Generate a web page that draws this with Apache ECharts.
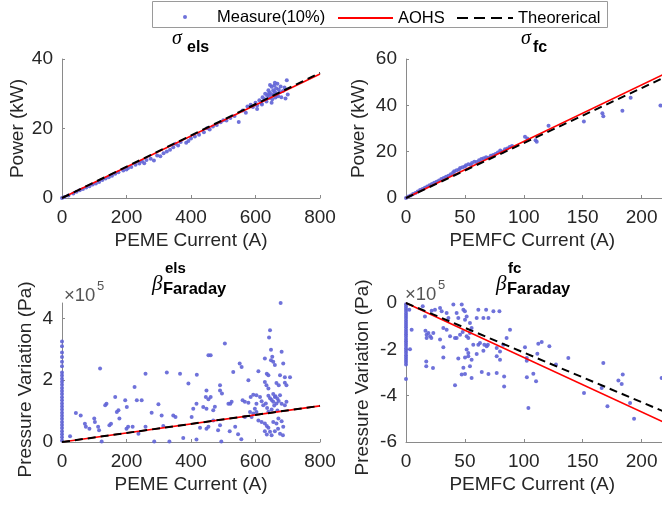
<!DOCTYPE html>
<html>
<head>
<meta charset="utf-8">
<script src="https://cdn.jsdelivr.net/npm/echarts@6/dist/echarts.min.js"></script>
<style>
html,body{margin:0;padding:0;background:#fff;}
#chart{width:662px;height:506px;}
</style>
</head>
<body>
<div id="chart"></div>
<script>
// ---------------- DATA ----------------
const seriesNames = ['Measure(10%)', 'AOHS', 'Theorerical'];

// sigma_els : PEME current (A) vs power (kW)
const elsPowerMeasured = [
[0,0],[8,0.3],[20,0.7],[35,1.3],[45,1.8],[55,2.2],[65,2.6],[75,3.0],[85,3.4],[95,3.9],[105,4.2],[115,4.6],[125,5.2],[135,5.6],[145,6.0],[155,6.4],[165,7.0],[175,7.4],[190,7.9],[200,8.2],[205,8.6],[215,8.9],[228,9.6],[240,9.9],[248,10.6],[255,10.0],[262,10.9],[275,11.3],[285,10.8],[295,12.2],[305,12.0],[315,12.9],[325,13.4],[335,13.9],[345,14.6],[352,15.6],[360,15.1],[368,16.1],[385,15.9],[392,16.4],[400,17.1],[412,17.7],[425,18.2],[440,18.9],[450,20.1],[458,19.7],[468,20.6],[480,21.0],[492,21.8],[500,22.4],[510,22.3],[522,23.0],[535,23.6],[548,21.9],[560,25.2],[570,24.5],[575,26.3],[585,26.8],[592,26.2],[600,27.4],[605,26.6],[612,28.1],[618,27.3],[622,29.0],[628,28.4],[630,30.0],[634,27.8],[636,29.4],[640,31.0],[642,28.8],[645,30.3],[648,29.6],[650,32.0],[652,28.4],[655,31.0],[656,29.9],[658,32.4],[660,30.6],[662,28.9],[664,31.6],[666,30.1],[668,32.9],[670,29.3],[672,31.2],[675,30.4],[678,32.1],[680,29.0],[685,30.8],[690,31.8],[693,28.6],[697,33.9],[700,29.8],[605,25.6],[620,26.9],[645,32.5],[660,33.2],[650,27.4],[640,29.9]
];
const elsPowerAOHS = [[0,0],[800,35.7]];
const elsPowerTheory = [[0,0],[800,36.0]];

// sigma_fc : PEMFC current (A) vs power (kW)
const fcPowerMeasured = [
[0,0],[2,0.6],[4,1.1],[6,1.7],[8,2.2],[10,2.8],[12,3.4],[14,3.9],[16,4.4],[18,5.0],[20,5.5],[22,6.0],[24,6.6],[26,7.0],[28,7.6],[30,8.2],[32,8.6],[34,9.2],[36,9.6],[38,10.3],[40,11.0],[41,11.5],[43,12.0],[45,12.3],[46,12.9],[48,13.3],[50,13.6],[51,14.1],[53,14.6],[55,14.4],[56,15.1],[58,15.6],[60,15.5],[62,16.3],[64,16.8],[66,17.2],[68,17.6],[70,17.4],[72,18.2],[74,18.6],[76,19.0],[78,19.6],[80,20.5],[82,20.0],[84,21.0],[86,21.4],[88,22.0],[90,22.5],[101,26.4],[103,25.7],[110,24.9],[111,24.3],[121,31.2],[151,33.0],[166.7,36.6],[167.5,35.3],[183.7,37.7],[190.7,43.3],[216,39.9]
];
const fcPowerAOHS = [[0,0],[250,61.0]];
const fcPowerTheory = [[0,0],[250,59.3]];

// beta_Faraday^els : PEME current (A) vs pressure variation (x1e5 Pa)
const elsPressureAtZero = [0.05,0.15,0.25,0.35,0.45,0.55,0.65,0.75,0.85,0.95,1.05,1.15,1.25,1.35,1.45,1.55,1.65,1.75,1.85,1.95,2.05,2.15,2.25,2.45,2.6,2.75,2.9,3.1,3.25];
const elsPressureMeasured = [
[25,0.19],[43,0.94],[58,0.86],[71,0.59],[74,0.49],[85,0.43],[100,0.76],[102,0.65],[112,0.49],[115,0.38],[118,2.38],[123,0.02],[134,1.19],[138,1.24],[147,0.54],[152,0.59],[165,1.46],[170,0.97],[175,1.03],[178,0.76],[196,1.35],[201,1.13],[200,0.43],[205,0.49],[219,0.49],[225,1.78],[232,1.35],[237,0.27],[247,1.35],[259,0.49],[259,2.21],[278,0.95],[286,0.02],[299,1.22],[309,0.86],[314,0.52],[325,2.25],[333,0.02],[345,0.86],[352,0.81],[366,2.21],[376,0.13],[392,1.89],[402,0.81],[407,1.08],[417,1.24],[417,0.08],[418,2.18],[428,0.46],[438,1.13],[448,1.67],[446,1.46],[448,1.08],[448,0.43],[454,2.81],[461,2.81],[454,0.49],[461,1.46],[454,1.38],[469,1.03],[474,1.14],[469,0.70],[484,0.38],[490,1.84],[490,1.67],[490,0.54],[494,0.02],[496,1.57],[505,3.19],[516,1.24],[522,1.24],[520,0.35],[526,1.30],[531,2.27],[537,0.49],[546,0.25],[551,2.54],[557,2.43],[556,0.09],[560,1.35],[567,0.81],[567,1.30],[578,2.0],[578,1.27],[583,0.97],[585,1.46],[588,0.81],[593,1.53],[593,0.92],[598,1.08],[603,1.51],[603,0.97],[603,1.24],[609,2.29],[609,0.70],[614,1.46],[619,1.32],[619,0.65],[624,1.19],[629,2.70],[629,1.94],[629,0.60],[629,0.35],[634,1.84],[635,2.21],[635,0.52],[635,0.24],[640,2.16],[640,1.73],[640,0.46],[640,1.50],[642,3.38],[645,3.62],[645,1.42],[645,0.33],[648,2.99],[648,2.65],[650,1.36],[650,0.22],[652,2.76],[655,2.60],[655,1.30],[655,0.65],[660,2.49],[660,1.46],[660,0.35],[665,1.91],[665,1.25],[665,0.60],[668,1.40],[670,0.43],[672,1.84],[672,1.33],[671,0.76],[676,2.16],[676,1.51],[676,0.27],[678,4.50],[681,2.92],[681,1.24],[681,0.67],[686,2.54],[686,0.49],[685,0.22],[691,2.10],[691,1.92],[691,1.19],[696,1.84],[696,1.30],[707,2.10],[650,1.05],[640,0.98],[655,1.55],[662,1.48],[658,1.18],[668,1.02],[636,1.10],[632,1.25]
];
const elsPressureAOHS = [[0,0],[800,1.17]];
const elsPressureTheory = [[0,0],[800,1.17]];

// beta_Faraday^fc : PEMFC current (A) vs pressure variation (x1e5 Pa)
const fcPressureAtZero = [-0.05,-0.15,-0.25,-0.35,-0.45,-0.55,-0.65,-0.75,-0.85,-0.95,-1.05,-1.15,-1.25,-1.35,-1.45,-1.55,-1.65,-1.75,-1.85,-1.95,-2.05,-2.15,-2.25,-2.35,-2.45,-2.55,-2.65,-3.28];
const fcPressureMeasured = [
[2.8,-0.29],[4.8,-1.15],[3.4,-2.0],[14.2,-0.14],[16.1,-0.58],[21.8,-0.33],[24.6,-0.29],[28.9,-0.22],[30.3,-0.36],[34.5,-0.43],[40.2,-0.07],[47.3,-0.07],[48.7,-0.29],[50,-0.36],[51.5,-0.58],[50.1,-0.72],[43,-0.43],[44.4,-0.65],[36,-0.65],[54.3,-0.86],[55.7,-1.08],[54.3,-1.3],[60,-0.65],[61.4,-0.29],[68,-0.29],[74.2,-0.36],[79.3,-0.36],[65.7,-0.65],[70,-0.65],[16.5,-1.2],[17.5,-1.37],[19,-1.3],[21.5,-1.51],[20.5,-1.44],[17.5,-1.51],[23.2,-1.3],[31.7,-1.08],[34.5,-1.15],[28.9,-1.58],[37.4,-1.44],[41.6,-1.51],[43,-1.51],[45.9,-1.37],[48.1,-1.25],[51.5,-1.44],[52.9,-1.51],[57.1,-1.8],[61.4,-1.8],[62.8,-1.73],[31.7,-1.91],[51.5,-2.01],[52.9,-2.16],[50.1,-2.35],[52.9,-2.3],[60,-2.2],[65.7,-2.06],[68.5,-1.87],[66.5,-1.8],[69.5,-1.8],[77,-1.94],[79.8,-2.09],[77,-2.3],[79.8,-2.45],[82.6,-1.8],[85.4,-1.51],[88.3,-1.15],[44.4,-2.4],[55.7,-2.45],[54.3,-2.73],[48.7,-2.8],[47.3,-3.09],[50.1,-3.06],[55.7,-3.24],[64.3,-2.98],[70,-3.06],[77,-3.02],[83.3,-3.17],[41.6,-3.55],[83.3,-3.6],[17.2,-2.52],[17.2,-2.73],[22.9,-2.81],[31.7,-2.35],[101,-1.91],[102.5,-2.37],[102.5,-2.49],[102.6,-3.21],[103.9,-4.53],[108.1,-3.05],[110.4,-3.38],[111.5,-2.19],[112.3,-1.76],[115.2,-1.68],[121.7,-1.87],[127.3,-2.66],[137.8,-2.37],[151.1,-3.88],[167.5,-2.59],[166.1,-3.67],[171,-4.46],[180.3,-3.35],[183.1,-3.5],[184,-3.09],[190.2,-4.32],[193.6,-5.0],[217,-3.24]
];
const fcPressureAOHS = [[0,0],[250,-5.875]];
const fcPressureTheory = [[0,0],[250,-5.35]];

// tick labels
const elsCurrentTicks = [0,200,400,600,800];
const fcCurrentTicks = [0,50,100,150,200,250];
const elsPowerTicks = [0,20,40];
const fcPowerTicks = [0,20,40,60];
const elsPressureTicks = [0,2,4];
const fcPressureTicks = [0,-2,-4,-6];

// ---------------- CHART ----------------
const FONT = 'Liberation Sans, Arial, Helvetica, sans-serif';
const AXIS_GRAY = '#8a8a8a';
const TEXT_COLOR = '#262626';
const DOT = '#5f63d6';

const chart = echarts.init(document.getElementById('chart'), null, {renderer: 'canvas'});

function xAxis(gi, min, max, ticks, name, namePad) {
  return {
    type: 'value', gridIndex: gi, min: min, max: max,
    name: name, nameLocation: 'middle', nameGap: 33,
    nameTextStyle: {fontFamily: FONT, fontSize: 19, color: TEXT_COLOR, padding: namePad || 0},
    axisLine: {show: true, onZero: false, lineStyle: {color: AXIS_GRAY, width: 1}},
    axisTick: {show: true, inside: true, length: 3, customValues: ticks, lineStyle: {color: AXIS_GRAY}},
    axisLabel: {customValues: ticks, fontFamily: FONT, fontSize: 19, color: TEXT_COLOR, margin: 10},
    splitLine: {show: false}
  };
}
function yAxis(gi, min, max, ticks, name, gap, namePad) {
  return {
    type: 'value', gridIndex: gi, min: min, max: max,
    name: name, nameLocation: 'middle', nameGap: gap, nameRotate: 90,
    nameTextStyle: {fontFamily: FONT, fontSize: 19, color: TEXT_COLOR, padding: namePad || 0},
    axisLine: {show: true, onZero: false, lineStyle: {color: AXIS_GRAY, width: 1}},
    axisTick: {show: true, inside: true, length: 3, customValues: ticks, lineStyle: {color: AXIS_GRAY}},
    axisLabel: {customValues: ticks, fontFamily: FONT, fontSize: 19, color: TEXT_COLOR, margin: 9},
    splitLine: {show: false}
  };
}
function scatter(gi, data) {
  return {type: 'scatter', name: seriesNames[0], xAxisIndex: gi, yAxisIndex: gi, data: data,
    symbol: 'circle', symbolSize: 4, itemStyle: {color: DOT, opacity: 0.9}, z: 2, silent: true};
}
function line(gi, data, which) {
  const isTheory = which === 2;
  return {type: 'line', name: seriesNames[which], xAxisIndex: gi, yAxisIndex: gi, data: data,
    symbol: 'none', clip: true, silent: true, z: isTheory ? 4 : 3,
    lineStyle: isTheory ? {color: '#000', width: 2, type: [8, 5]} : {color: '#ff0000', width: 1.6},
    itemStyle: {color: isTheory ? '#000' : '#ff0000'}};
}

function t(text, x, y, font, fill) {
  return {type: 'text', silent: true, z: 10, style: {text: text, x: x, y: y, font: font, fill: fill || '#000', verticalAlign: 'top', align: 'left'}};
}

const legendText = {fontFamily: FONT, fontSize: 16.5, color: '#000'};
const option = {
  animation: false,
  backgroundColor: '#fff',
  legend: [
    {left: 183, top: 8.5, padding: 0, itemWidth: 4, itemHeight: 4, icon: 'circle',
     textStyle: Object.assign({padding: [0, 0, 0, 25]}, legendText), data: [seriesNames[0]], selectedMode: false},
    {left: 338, top: 9.5, padding: 0, itemWidth: 55, itemHeight: 2, icon: 'rect',
     textStyle: legendText, data: [seriesNames[1]], selectedMode: false},
    {left: 457, top: 9.5, padding: 0, itemWidth: 56, itemHeight: 2,
     icon: 'path://M0,0h11v2h-11z M17,0h11v2h-11z M34,0h11v2h-11z M51,0h5v2h-5z',
     textStyle: legendText, data: [seriesNames[2]], selectedMode: false}
  ],
  grid: [
    {left: 62, top: 59, width: 258, height: 139, outerBoundsMode: 'none'},
    {left: 406, top: 59, width: 294.5, height: 139, outerBoundsMode: 'none'},
    {left: 62, top: 303, width: 258, height: 139, outerBoundsMode: 'none'},
    {left: 406, top: 303, width: 294.5, height: 139, outerBoundsMode: 'none'}
  ],
  xAxis: [
    xAxis(0, 0, 800, elsCurrentTicks, 'PEME Current (A)'),
    xAxis(1, 0, 250, fcCurrentTicks, 'PEMFC Current (A)', [0, 42, 0, 0]),
    xAxis(2, 0, 800, elsCurrentTicks, 'PEME Current (A)'),
    xAxis(3, 0, 250, fcCurrentTicks, 'PEMFC Current (A)', [0, 42, 0, 0])
  ],
  yAxis: [
    yAxis(0, 0, 40, elsPowerTicks, 'Power (kW)', 35),
    yAxis(1, 0, 60, fcPowerTicks, 'Power (kW)', 38),
    yAxis(2, 0, 4.5, elsPressureTicks, 'Pressure Variation (Pa)', 27, [0, 14, 0, 0]),
    yAxis(3, -6, 0, fcPressureTicks, 'Pressure Variation (Pa)', 34, [0, 10, 0, 0])
  ],
  series: [
    scatter(0, elsPowerMeasured),
    line(0, elsPowerAOHS, 1),
    line(0, elsPowerTheory, 2),
    scatter(1, fcPowerMeasured),
    line(1, fcPowerAOHS, 1),
    line(1, fcPowerTheory, 2),
    scatter(2, elsPressureAtZero.map(v => [0, v]).concat(elsPressureMeasured)),
    line(2, elsPressureAOHS, 1),
    line(2, elsPressureTheory, 2),
    scatter(3, fcPressureAtZero.map(v => [0, v]).concat(fcPressureMeasured)),
    line(3, fcPressureAOHS, 1),
    line(3, fcPressureTheory, 2)
  ],
  graphic: [
    {type: 'rect', silent: true, z: -1, shape: {x: 152.5, y: 1.5, width: 455, height: 26},
     style: {fill: '#fff', stroke: '#9a9a9a', lineWidth: 1}},
    t('σ', 172, 29, 'italic 20px "Liberation Serif", serif'),
    t('els', 187, 40, 'bold 16px ' + FONT),
    t('σ', 521, 29, 'italic 20px "Liberation Serif", serif'),
    t('fc', 533, 40, 'bold 16px ' + FONT),
    t('β', 152, 274, 'italic 21px "Liberation Serif", serif'),
    t('els', 165, 261, 'bold 15px ' + FONT),
    t('Faraday', 163, 281, 'bold 16.5px ' + FONT),
    t('β', 496, 274, 'italic 21px "Liberation Serif", serif'),
    t('fc', 508, 261, 'bold 15px ' + FONT),
    t('Faraday', 507, 281, 'bold 16.5px ' + FONT),
    t('×10', 64, 286, '18.5px ' + FONT, '#555'),
    t('5', 97, 280, '13px ' + FONT, '#555'),
    t('×10', 405, 285, '18.5px ' + FONT, '#555'),
    t('5', 438, 279, '13px ' + FONT, '#555')
  ]
};
chart.setOption(option);
</script>
</body>
</html>
